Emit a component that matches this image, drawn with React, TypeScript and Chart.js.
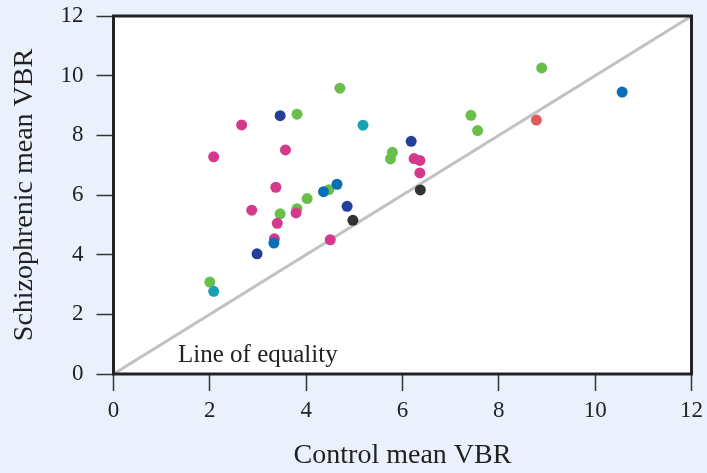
import React, { useEffect, useRef } from "react";
import { Chart, registerables } from "chart.js";

Chart.register(...registerables);

// Data (Control vs Schizophrenic mean VBR per study)
const controlMean = [
  2.0, 5.75, 5.79, 4.02, 3.46, 3.81, 4.47, 3.81, 4.7, 7.42, 7.56, 8.89,
  2.08, 2.66, 2.87, 3.37, 3.4, 3.34, 3.57, 3.79, 4.5, 6.24, 6.36, 6.36,
  2.08, 5.18,
  3.33, 4.36, 4.64, 10.56,
  2.98, 3.46, 4.85, 6.18,
  4.97, 6.37,
  8.78,
];
const schizoMean = [
  3.08, 7.21, 7.43, 5.88, 5.37, 5.54, 6.18, 8.71, 9.58, 8.67, 8.16, 10.26,
  7.28, 8.35, 5.49, 6.26, 5.05, 4.53, 7.51, 5.4, 4.5, 7.22, 7.16, 6.74,
  2.77, 8.34,
  4.39, 6.11, 6.36, 9.45,
  4.03, 8.66, 5.62, 7.8,
  5.15, 6.17,
  8.51,
];
const studyGroup = [
  "green", "green", "green", "green", "green", "green", "green", "green", "green", "green", "green", "green",
  "pink", "pink", "pink", "pink", "pink", "pink", "pink", "pink", "pink", "pink", "pink", "pink",
  "teal", "teal",
  "blue", "blue", "blue", "blue",
  "navy", "navy", "navy", "navy",
  "black", "black",
  "red",
];
const groupColors: Record<string, string> = {
  green: "#6abf4a",
  pink: "#d5398b",
  teal: "#17a2b4",
  blue: "#0a6fb9",
  navy: "#233f99",
  black: "#333333",
  red: "#e05c5c",
};
const equalityLine = [0, 12];
const axisTicks = [0, 2, 4, 6, 8, 10, 12];
const equalityLabel = "Line of equality";
const equalityLabelPos = { x: 1.34, y: 0.41 };

const SERIF = "'Liberation Serif', 'Times New Roman', serif";

const bgPlugin = {
  id: "bgFrame",
  beforeDraw(chart: any) {
    const { ctx, chartArea, width, height } = chart;
    ctx.save();
    ctx.fillStyle = "#ebf1fc";
    ctx.fillRect(0, 0, width, height);
    ctx.fillStyle = "#ffffff";
    ctx.fillRect(chartArea.left, chartArea.top, chartArea.right - chartArea.left, chartArea.bottom - chartArea.top);
    ctx.restore();
  },
  afterDraw(chart: any) {
    const { ctx, chartArea, scales } = chart;
    ctx.save();
    ctx.strokeStyle = "#222222";
    ctx.lineWidth = 3;
    ctx.strokeRect(chartArea.left, chartArea.top, chartArea.right - chartArea.left, chartArea.bottom - chartArea.top);
    ctx.fillStyle = "#222222";
    ctx.font = `25px ${SERIF}`;
    ctx.textAlign = "left";
    ctx.textBaseline = "alphabetic";
    ctx.fillText(
      equalityLabel,
      scales.x.getPixelForValue(equalityLabelPos.x),
      scales.y.getPixelForValue(equalityLabelPos.y)
    );
    ctx.restore();
  },
};

export default function App() {
  const ref = useRef<HTMLCanvasElement>(null);
  useEffect(() => {
    document.body.style.margin = "0";
    const canvas = ref.current!;
    const chart = new Chart(canvas, {
      type: "scatter",
      data: {
        datasets: [
          {
            type: "line",
            data: equalityLine.map((v) => ({ x: v, y: v })),
            borderColor: "#c2c2c4",
            borderWidth: 3,
            pointRadius: 0,
            fill: false,
            order: 2,
          } as any,
          {
            data: controlMean.map((x, i) => ({ x, y: schizoMean[i] })),
            pointBackgroundColor: studyGroup.map((g) => groupColors[g]),
            pointBorderWidth: 0,
            pointRadius: 5.5,
            order: 1,
          } as any,
        ],
      },
      options: {
        responsive: false,
        animation: false,
        devicePixelRatio: 1,
        layout: { padding: { left: 0, right: 15.5, top: 16, bottom: 0 } },
        plugins: { legend: { display: false }, tooltip: { enabled: false } },
        scales: {
          x: {
            type: "linear",
            min: 0,
            max: 12,
            afterBuildTicks: (s: any) => {
              s.ticks = axisTicks.map((v) => ({ value: v }));
            },
            afterFit: (s: any) => {
              s.height = 99;
              s.paddingLeft = 0;
              s.paddingRight = 0;
            },
            grid: { drawOnChartArea: false, drawTicks: true, tickLength: 17, tickWidth: 1.5, tickColor: "#333" },
            border: { display: false },
            ticks: { padding: 6, color: "#222", font: { family: SERIF, size: 23 } },
            title: {
              display: true,
              text: "Control mean VBR",
              color: "#222",
              font: { family: SERIF, size: 28 },
              padding: { top: 0, bottom: 1 },
            },
          },
          y: {
            type: "linear",
            min: 0,
            max: 12,
            afterBuildTicks: (s: any) => {
              s.ticks = axisTicks.map((v) => ({ value: v }));
            },
            afterFit: (s: any) => {
              s.width = 113.5;
              s.paddingTop = 0;
              s.paddingBottom = 0;
            },
            grid: { drawOnChartArea: false, drawTicks: true, tickLength: 17, tickWidth: 1.5, tickColor: "#333" },
            border: { display: false },
            ticks: { padding: 13, color: "#222", font: { family: SERIF, size: 23 } },
            title: {
              display: true,
              text: "Schizophrenic mean VBR",
              color: "#222",
              font: { family: SERIF, size: 28 },
              padding: { top: 8, bottom: 0 },
            },
          },
        },
      },
      plugins: [bgPlugin],
    });
    return () => chart.destroy();
  }, []);
  return (
    <div style={{ position: "absolute", left: 0, top: 0, width: 707, height: 473 }}>
      <canvas ref={ref} width={707} height={473} />
    </div>
  );
}
